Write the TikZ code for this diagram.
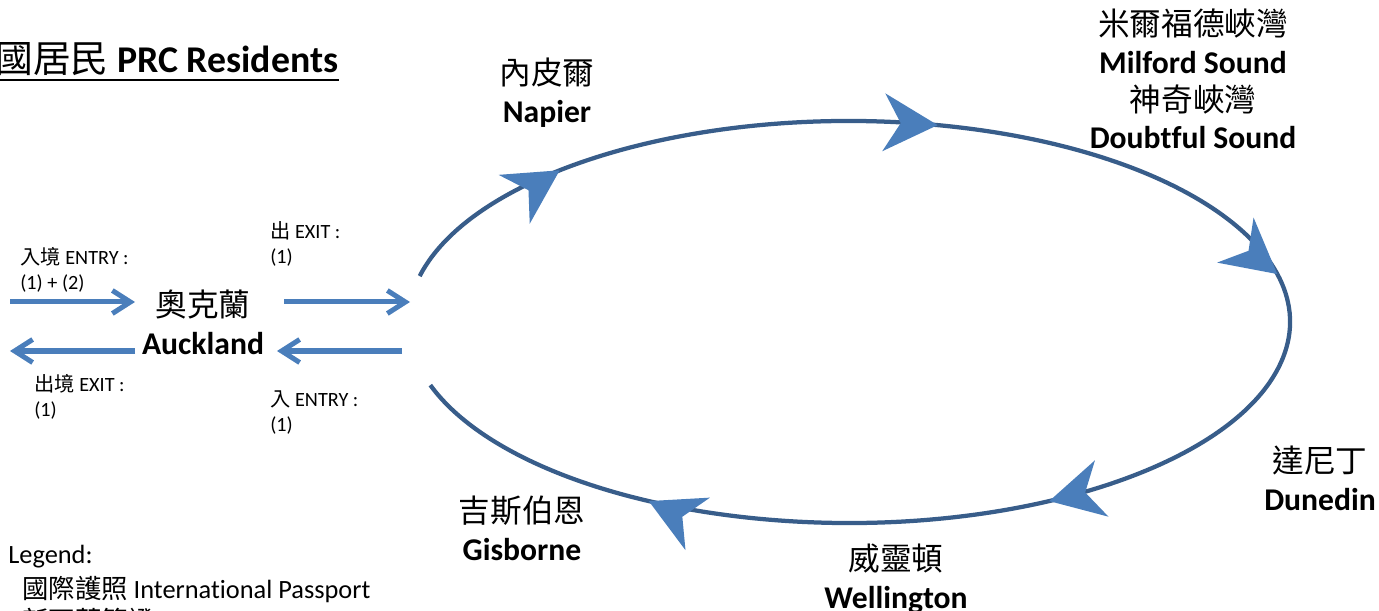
\documentclass[tikz,border=0pt]{standalone}
\usepackage{fontspec}
\setmainfont{Carlito}[Ligatures=NoCommon]
\newfontfamily\cjk{Noto Sans CJK TC}
\usetikzlibrary{arrows.meta}
\newcommand{\zh}[1]{{\cjk #1}}
\definecolor{ringblue}{HTML}{385D8A}
\definecolor{headblue}{HTML}{4A7EBB}

\tikzset{
    place/.style={align=center, inner sep=0pt, font=\fontsize{18}{21.5}\selectfont},
    note/.style={align=left, inner sep=0pt, anchor=west, font=\fontsize{11.5}{14.2}\selectfont},
    key/.style={anchor=base west, inner sep=0pt, font=\fontsize{15}{18}\selectfont},
    flow/.style={headblue, line width=0.1cm, -{Straight Barb[length=0.36cm, width=0.46cm]}},
    ring/.style={ringblue, line width=0.085cm},
}

\begin{document}
\begin{tikzpicture}
    \useasboundingbox (0,0) rectangle (27.58,-12.22);

    % Title
    \node[anchor=base west, inner sep=0pt, font=\fontsize{21.5}{25}\selectfont] (title) at (-0.1,-1.46) {\zh{國居民} \textbf{PRC Residents}};
    \draw[line width=1.1pt] ([yshift=-0.14cm]title.base west) -- ([yshift=-0.14cm]title.base east);

    % Auckland, in and out
    \node[place] (auckland) at (4.06,-6.44) {\zh{奧克蘭}\\\textbf{Auckland}};
    \coordinate (entryA) at (0.2,-6.04);
    \coordinate (entryB) at (2.7,-6.04);
    \coordinate (exitA) at (2.7,-7.02);
    \coordinate (exitB) at (0.2,-7.02);
    \coordinate (outA) at (5.68,-6.04);
    \coordinate (outB) at (8.2,-6.04);
    \coordinate (backA) at (8.04,-7.02);
    \coordinate (backB) at (5.54,-7.02);
    \draw[flow] (entryA) -- (entryB);
    \draw[flow] (exitA) -- (exitB);
    \draw[flow] (outA) -- (outB);
    \draw[flow] (backA) -- (backB);

    \node[note] (entrynote) at (0.4,-5.4) {\zh{入境} ENTRY :\\(1) + (2)};
    \node[note] (exitnote) at (0.68,-7.94) {\zh{出境} EXIT :\\(1)};
    \node[note] (outnote) at (5.4,-4.88) {\zh{出} EXIT :\\(1)};
    \node[note] (innote) at (5.4,-8.26) {\zh{入} ENTRY :\\(1)};

    % The loop round the country
    \coordinate (ell) at (16.98,-6.44);
    \draw[ring] ([shift={(166.8:8.82 and 4.02)}]ell) arc[start angle=166.8, end angle=-161.7, x radius=8.82, y radius=4.02];
    \foreach \t/\r in {131/32.5, 78.4/-3, 13.8/-39, -63/193.5, -117/155} {
        \fill[headblue, shift={(ell)}, shift={(\t:8.82 and 4.02)}, rotate=\r]
            (0,0) -- (-1.08,0.58) -- (-0.74,0) -- (-1.08,-0.58) -- cycle;
    }

    % Stops
    \node[place] (napier) at (10.94,-1.86) {\zh{內皮爾}\\\textbf{Napier}};
    \node[place] (milford) at (23.86,-1.58) {\zh{米爾福德峽灣}\\\textbf{Milford Sound}\\\zh{神奇峽灣}\\\textbf{Doubtful Sound}};
    \node[place] (dunedin) at (26.4,-9.56) {\zh{達尼丁}\\\textbf{Dunedin}};
    \node[place] (wellington) at (17.92,-11.58) {\zh{威靈頓}\\\textbf{Wellington}};
    \node[place] (gisborne) at (10.44,-10.56) {\zh{吉斯伯恩}\\\textbf{Gisborne}};

    % Legend
    \node[key] (legend) at (0.16,-11.26) {Legend:};
    \node[key] (passport) at (0.44,-11.96) {\zh{國際護照} International Passport};
    \node[key] (visa) at (0.44,-12.6) {\zh{新西蘭簽證} New Zealand Visa};
\end{tikzpicture}
\end{document}
